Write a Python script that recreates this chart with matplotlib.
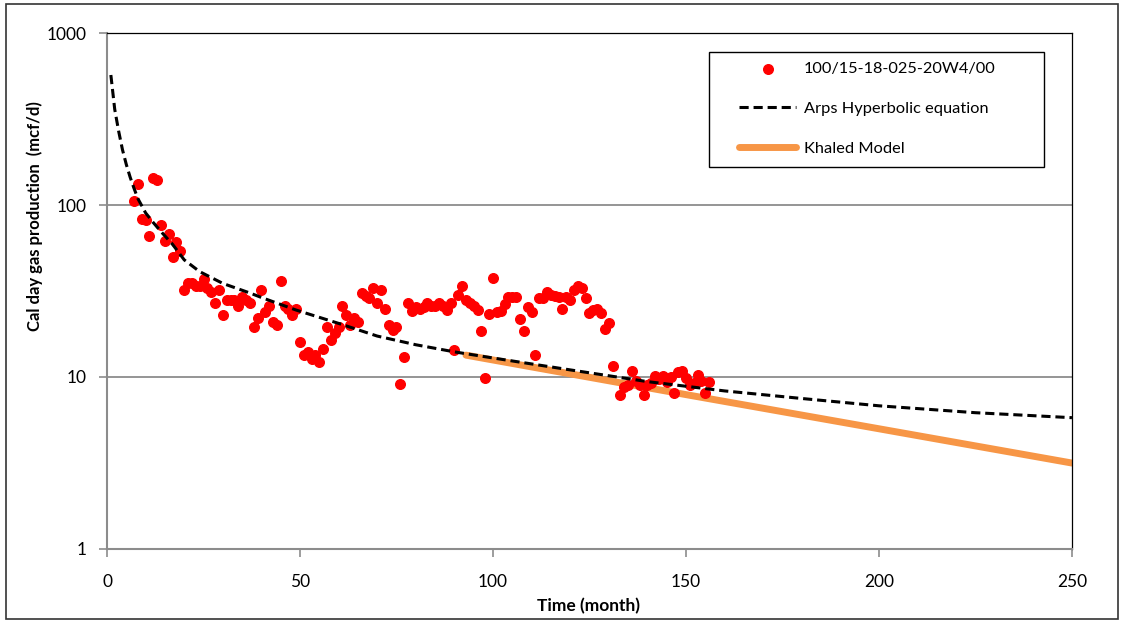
import matplotlib.pyplot as plt
from matplotlib.patches import Rectangle

# measured well data (month, mcf/d)
months = [7, 8, 9, 10, 11, 12, 13, 14, 15, 16, 17, 18, 19, 20, 21, 22, 23, 24, 25, 26,
          27, 28, 29, 30, 31, 32, 33, 34, 35, 36, 37, 38, 39, 40, 41, 42, 43, 44, 45, 46,
          47, 48, 49, 50, 51, 52, 53, 54, 55, 56, 57, 58, 59, 60, 61, 62, 63, 64, 65, 66,
          67, 68, 69, 70, 71, 72, 73, 74, 75, 76, 77, 78, 79, 80, 81, 82, 83, 84, 85, 86,
          87, 88, 89, 90, 91, 92, 93, 94, 95, 96, 97, 98, 99, 100, 101, 102, 103, 104, 105, 106,
          107, 108, 109, 110, 111, 112, 113, 114, 115, 116, 117, 118, 119, 120, 121, 122, 123, 124, 125, 126,
          127, 128, 129, 130, 131, 133, 134, 135, 136, 137, 138, 139, 140, 141, 142, 143, 144, 145, 146, 147,
          148, 149, 150, 151, 152, 153, 154, 155, 156]
rate = [105, 133, 83, 82, 66, 143, 140, 77, 62, 68, 50, 61, 54, 32, 35, 35, 34, 34, 37, 33,
        31, 27, 32, 23, 28, 28, 28, 26, 29, 28, 27, 19.5, 22, 32, 24, 26, 21, 20, 36, 26,
        25, 23, 25, 16, 13.5, 14, 12.7, 13.5, 12.2, 14.5, 19.5, 16.4, 18, 19.5, 26, 23, 20, 22, 21, 30.6,
        29.5, 28.7, 32.8, 27, 32, 25, 20, 18.7, 19.5, 9.1, 13, 27, 24.2, 25.5, 25, 25.5, 27, 26, 26, 27,
        26, 24.5, 27, 14.3, 30, 34, 28, 27, 26, 24.5, 18.5, 9.9, 23.3, 37.6, 24, 24.2, 26.5, 29, 29, 29,
        21.7, 18.5, 25.5, 24, 13.5, 28.7, 28.7, 31, 30, 29.6, 29.2, 25, 29, 28, 32, 33.6, 32.8, 28.7, 23.7, 24.5,
        25, 23.7, 19, 20.6, 11.6, 7.9, 8.8, 9, 10.8, 9.5, 9, 7.9, 9, 9.2, 10.1, 9.7, 10.1, 9.3, 10, 8.1,
        10.7, 10.8, 9.9, 9, 9.2, 10.3, 9.5, 8.1, 9.3]

# Arps hyperbolic curve
arps_t = [1, 2, 3, 4, 5, 6, 7, 8, 10, 12, 14, 17, 20, 24, 30, 37, 40, 49, 60, 70,
          80, 90, 100, 120, 140, 160, 180, 200, 225, 250]
arps_q = [570, 360, 270, 210, 172, 145, 125, 109, 90, 79, 70, 59, 48, 41, 35, 30.8, 29, 24.5, 20.5, 17.3,
          15.4, 14.0, 12.9, 11.0, 9.4, 8.3, 7.5, 6.8, 6.2, 5.8]

# Khaled model
khaled_t = [93, 150, 200, 250]
khaled_q = [13.4, 7.9, 5.0, 3.16]

plt.rcParams['font.family'] = ['Lato', 'DejaVu Sans']

fig = plt.figure(figsize=(11.24, 6.23), dpi=100)
ax = fig.add_axes([0.0952, 0.1188, 0.8585, 0.8282])

ax.scatter(months, rate, s=48, color='#FF0000', zorder=3, label='100/15-18-025-20W4/00')
ax.plot(arps_t, arps_q, color='black', linestyle=(0, (3, 1.6)), linewidth=2.2, zorder=4,
        label='Arps Hyperbolic equation')
ax.plot(khaled_t, khaled_q, color='#F79646', linewidth=5, zorder=2, solid_capstyle='round',
        label='Khaled Model')

ax.set_yscale('log')
ax.set_xlim(0, 250)
ax.set_ylim(1, 1000)
ax.set_xticks([0, 50, 100, 150, 200, 250])
ax.set_yticks([1, 10, 100, 1000])
ax.set_yticklabels(['1', '10', '100', '1000'])
ax.minorticks_off()
ax.yaxis.grid(True, color='#8c8c8c', linewidth=1.3)
ax.set_axisbelow(True)

for side in ['left', 'bottom']:
    ax.spines[side].set_color('#8c8c8c')
    ax.spines[side].set_linewidth(1.5)
for side in ['top', 'right']:
    ax.spines[side].set_color('black')
    ax.spines[side].set_linewidth(0.9)
ax.tick_params(axis='both', direction='out', length=6, width=1.2, color='#8c8c8c',
               labelsize=12.5)
ax.tick_params(axis='x', pad=12)
ax.tick_params(axis='y', pad=9)

ax.set_xlabel('Time (month)', fontsize=12.5, fontweight='bold')
ax.set_ylabel('Cal day gas production  (mcf/d)', fontsize=12, fontweight='bold')
ax.xaxis.set_label_coords(0.4995, -0.095)
ax.yaxis.set_label_coords(-0.0663, 0.645)

# legend entries without frame, frame drawn separately
leg = ax.legend(loc='upper left', bbox_to_anchor=(0.655, 0.945), fontsize=11.8,
                frameon=False, labelspacing=1.55, handlelength=3.5, handletextpad=0.45,
                borderpad=0, borderaxespad=0)
ax.add_patch(Rectangle((0.6238, 0.740), 0.3472, 0.223, transform=ax.transAxes,
                       fill=False, edgecolor='black', linewidth=1.0, zorder=5))

fig.add_artist(Rectangle((0.005, 0.006), 0.99, 0.988, transform=fig.transFigure,
                         fill=False, edgecolor='#333333', linewidth=1.2))

fig.savefig('out.png', dpi=100)
